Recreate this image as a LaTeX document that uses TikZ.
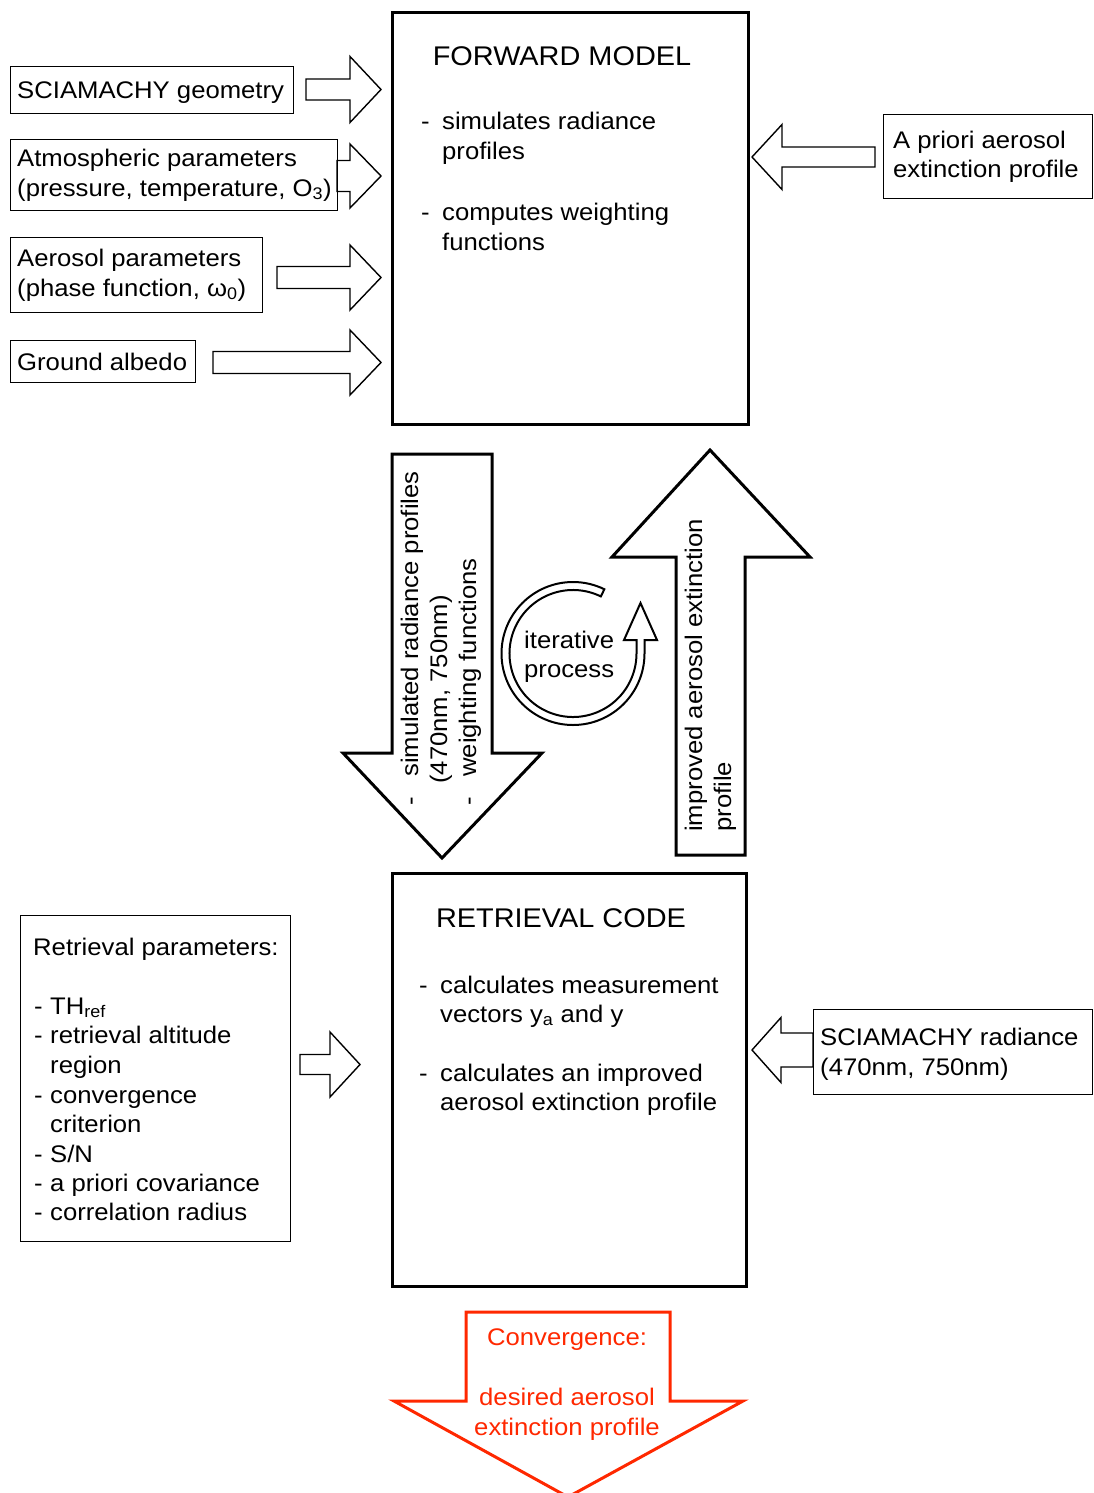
\documentclass[tikz,border=0pt]{standalone}
\usepackage{fontspec}
\setmainfont{Liberation Sans}[FakeStretch=1.07]
\usetikzlibrary{calc}
\definecolor{convred}{RGB}{255,40,0}
\newcommand\blkR[6]{\draw[blk] (#1,{-(#4)+(#5)}) -- (#2,{-(#4)+(#5)}) -- (#2,{-(#4)+(#6)}) -- (#3,{-(#4)}) -- (#2,{-(#4)-(#6)}) -- (#2,{-(#4)-(#5)}) -- (#1,{-(#4)-(#5)}) -- cycle;}
\begin{document}
\begin{tikzpicture}[x=1pt,y=1pt,font=\fontsize{24}{30}\selectfont,
  inbox/.style={draw, line width=1.4pt, anchor=north west, inner sep=0pt},
  bigbox/.style={draw, line width=3pt, anchor=north west, inner sep=0pt},
  txt/.style={anchor=base west, inner sep=0pt},
  ctxt/.style={anchor=base, inner sep=0pt},
  rtxt/.style={anchor=base west, inner sep=0pt, rotate=90},
  ttl/.style={anchor=base, inner sep=0pt, font=\fontsize{27}{30}\selectfont},
  blk/.style={draw, line width=1.4pt, line join=miter},
  bigblk/.style={draw, line width=3pt, line join=miter},
  circ/.style={draw, line width=2pt, line join=miter}]
\useasboundingbox (0,0) rectangle (1093,-1493);
\clip (0,0) rectangle (1093,-1493);

% ---------- FORWARD MODEL ----------
\node[bigbox, minimum width=356, minimum height=412] (fwd) at (391,-11) {};
\node[ttl] (fwdttl) at (562,-66) {FORWARD MODEL};
\node[txt] (fd1) at (421,-130) {-};
\node[txt] (ft1) at (442,-130) {simulates radiance};
\node[txt] (ft1b) at (442,-160) {profiles};
\node[txt] (fd2) at (421,-220) {-};
\node[txt] (ft2) at (442,-220) {computes weighting};
\node[txt] (ft2b) at (442,-250) {functions};

% ---------- inputs left ----------
\node[inbox, minimum width=283, minimum height=47] (geo) at (10,-66) {};
\node[txt] (geot) at (17,-99) {SCIAMACHY geometry};
\blkR{306}{350}{381}{89.5}{10.5}{33}

\node[inbox, minimum width=327, minimum height=71] (atm) at (10,-139) {};
\node[txt] (atmt1) at (17,-166) {Atmospheric parameters};
\node[txt] (atmt2) at (17,-196) {(pressure, temperature, O\textsubscript{3})};
\blkR{337}{350}{381}{176}{15.5}{32}

\node[inbox, minimum width=252, minimum height=75] (aer) at (10,-237) {};
\node[txt] (aert1) at (17,-266) {Aerosol parameters};
\node[txt] (aert2) at (17,-296) {(phase function, ω\textsubscript{0})};
\blkR{277}{350}{381}{277.5}{11}{32.5}

\node[inbox, minimum width=185, minimum height=42] (alb) at (10,-340) {};
\node[txt] (albt) at (17,-370) {Ground albedo};
\blkR{213}{350}{381}{362.5}{11}{32.5}

% ---------- a priori ----------
\node[inbox, minimum width=209, minimum height=84] (apr) at (883,-114) {};
\node[txt] (aprt1) at (893,-148) {A priori aerosol};
\node[txt] (aprt2) at (893,-177) {extinction profile};
\blkR{875}{782}{752}{157}{10}{32.5}

% ---------- down arrow ----------
\draw[bigblk] (392,-454) -- (492,-454) -- (492,-753) -- (542,-753) -- (442,-858) -- (343,-753) -- (392,-753) -- cycle;
\node[rtxt] (s1) at (418,-777) {simulated radiance profiles};
\node[rtxt] (s2) at (447,-784) {(470nm, 750nm)};
\node[rtxt] (s3) at (476,-777) {weighting functions};
\node[rtxt] (sd1) at (418,-806) {-};
\node[rtxt] (sd3) at (476,-806) {-};

% ---------- up arrow ----------
\draw[bigblk] (676,-855) -- (745,-855) -- (745,-557) -- (810,-557) -- (710,-450) -- (612,-557) -- (676,-557) -- cycle;
\node[rtxt] (u1) at (702,-832) {improved aerosol extinction};
\node[rtxt] (u2) at (731,-832) {profile};

% ---------- iterative process ----------
\coordinate (C) at (573,-653.5);
\draw[circ] ($(C)+(64:63.5)$) arc[start angle=64, end angle=360, radius=63.5]
  -- (636.5,-640) -- (624,-640) -- (640.5,-603) -- (657,-640) -- (644.5,-640)
  -- ($(C)+(0:71.5)$) arc[start angle=360, end angle=64, radius=71.5] -- cycle;
\node[txt] (it1) at (524,-648) {iterative};
\node[txt] (it2) at (524,-677) {process};

% ---------- RETRIEVAL CODE ----------
\node[bigbox, minimum width=354, minimum height=413] (ret) at (391,-872) {};
\node[ttl] (retttl) at (561,-927) {RETRIEVAL CODE};
\node[txt] (rd1) at (419,-993) {-};
\node[txt] (rt1) at (440,-993) {calculates measurement};
\node[txt] (rt1b) at (440,-1022) {vectors y\textsubscript{a} and y};
\node[txt] (rd2) at (419,-1081) {-};
\node[txt] (rt2) at (440,-1081) {calculates an improved};
\node[txt] (rt2b) at (440,-1110) {aerosol extinction profile};

% ---------- SCIAMACHY radiance ----------
\node[inbox, minimum width=279, minimum height=85] (scr) at (813,-1009) {};
\node[txt] (scrt1) at (820,-1045) {SCIAMACHY radiance};
\node[txt] (scrt2) at (820,-1075) {(470nm, 750nm)};
\blkR{813}{781}{752}{1050}{17}{32.5}

% ---------- Retrieval parameters ----------
\node[inbox, minimum width=270, minimum height=326] (rpar) at (20,-915) {};
\node[txt] (rp0) at (33,-955) {Retrieval parameters:};
\node[txt] (rpd1) at (34,-1014) {-};
\node[txt] (rp1) at (50,-1014) {TH\textsubscript{ref}};
\node[txt] (rpd2) at (34,-1043) {-};
\node[txt] (rp2) at (50,-1043) {retrieval altitude};
\node[txt] (rp2b) at (50,-1073) {region};
\node[txt] (rpd3) at (34,-1103) {-};
\node[txt] (rp3) at (50,-1103) {convergence};
\node[txt] (rp3b) at (50,-1132) {criterion};
\node[txt] (rpd4) at (34,-1162) {-};
\node[txt] (rp4) at (50,-1162) {S/N};
\node[txt] (rpd5) at (34,-1191) {-};
\node[txt] (rp5) at (50,-1191) {a priori covariance};
\node[txt] (rpd6) at (34,-1220) {-};
\node[txt] (rp6) at (50,-1220) {correlation radius};
\blkR{300}{330}{360}{1064.5}{10}{32.5}

% ---------- Convergence ----------
\draw[bigblk, draw=convred] (466,-1312) -- (670,-1312) -- (670,-1401) -- (743,-1401) -- (568,-1497) -- (394,-1401) -- (466,-1401) -- cycle;
\node[ctxt, text=convred] (cv1) at (567,-1345) {Convergence:};
\node[ctxt, text=convred] (cv2) at (567,-1405) {desired aerosol};
\node[ctxt, text=convred] (cv3) at (567,-1435) {extinction profile};
\end{tikzpicture}
\end{document}
